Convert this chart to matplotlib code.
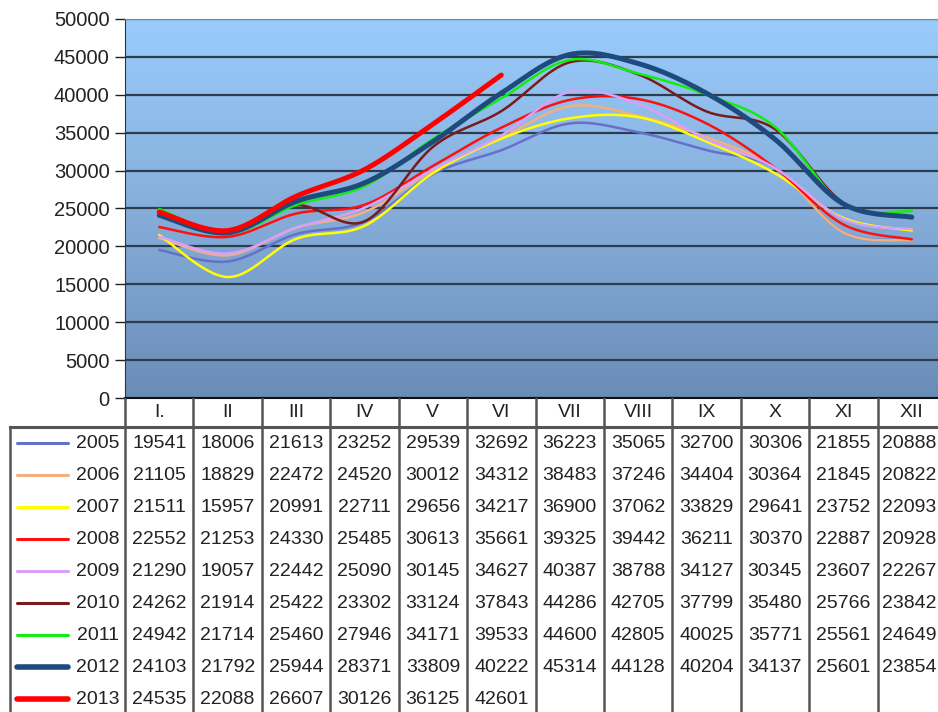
import matplotlib
matplotlib.use('Agg')
import matplotlib.pyplot as plt
import numpy as np
from matplotlib.colors import LinearSegmentedColormap

plt.rcParams['font.family'] = ['Liberation Sans', 'DejaVu Sans']

# data
months = ['I.', 'II', 'III', 'IV', 'V', 'VI', 'VII', 'VIII', 'IX', 'X', 'XI', 'XII']
years = ['2005', '2006', '2007', '2008', '2009', '2010', '2011', '2012', '2013']

v2005 = [19541, 18006, 21613, 23252, 29539, 32692, 36223, 35065, 32700, 30306, 21855, 20888]
v2006 = [21105, 18829, 22472, 24520, 30012, 34312, 38483, 37246, 34404, 30364, 21845, 20822]
v2007 = [21511, 15957, 20991, 22711, 29656, 34217, 36900, 37062, 33829, 29641, 23752, 22093]
v2008 = [22552, 21253, 24330, 25485, 30613, 35661, 39325, 39442, 36211, 30370, 22887, 20928]
v2009 = [21290, 19057, 22442, 25090, 30145, 34627, 40387, 38788, 34127, 30345, 23607, 22267]
v2010 = [24262, 21914, 25422, 23302, 33124, 37843, 44286, 42705, 37799, 35480, 25766, 23842]
v2011 = [24942, 21714, 25460, 27946, 34171, 39533, 44600, 42805, 40025, 35771, 25561, 24649]
v2012 = [24103, 21792, 25944, 28371, 33809, 40222, 45314, 44128, 40204, 34137, 25601, 23854]
v2013 = [24535, 22088, 26607, 30126, 36125, 42601]

series = [v2005, v2006, v2007, v2008, v2009, v2010, v2011, v2012, v2013]
colors = ['#6670C8', '#F0B080', '#FFFF00', '#FF1010', '#D8A0F8',
          '#7A1A1A', '#10EE10', '#1F4A7D', '#FF0000']
widths = [1.8, 1.8, 1.8, 1.8, 1.8, 1.8, 1.8, 3.6, 3.6]


def smooth(y, n=30):
    # excel-like smoothed line (catmull-rom as bezier)
    y = np.asarray(y, float)
    x = np.arange(len(y), dtype=float)
    px = np.concatenate([[x[0]], x, [x[-1]]])
    py = np.concatenate([[y[0]], y, [y[-1]]])
    xs, ys = [], []
    t = np.linspace(0, 1, n)
    for i in range(1, len(px) - 2):
        p0 = np.array([px[i], py[i]])
        p3 = np.array([px[i + 1], py[i + 1]])
        p1 = p0 + (np.array([px[i + 1], py[i + 1]]) - np.array([px[i - 1], py[i - 1]])) / 6
        p2 = p3 - (np.array([px[i + 2], py[i + 2]]) - np.array([px[i], py[i]])) / 6
        b = ((1 - t) ** 3)[:, None] * p0 + (3 * (1 - t) ** 2 * t)[:, None] * p1 \
            + (3 * (1 - t) * t ** 2)[:, None] * p2 + (t ** 3)[:, None] * p3
        xs.extend(b[:, 0]); ys.extend(b[:, 1])
    return np.array(xs), np.array(ys)


W, H = 938, 712
colw = 68.4
fs = 14
fig = plt.figure(figsize=(W / 100, H / 100), dpi=100)

# chart area
ax = fig.add_axes([125 / W, 1 - 398 / H, (946 - 125) / W, (398 - 19) / H])
ax.set_xlim(-0.5, 11.5)
ax.set_ylim(0, 50000)
cmap = LinearSegmentedColormap.from_list('bg', ['#6A8DB6', '#86AEDB', '#99CCFC'])
ax.imshow(np.linspace(0, 1, 256).reshape(-1, 1), extent=[-0.5, 11.5, 0, 50000],
          aspect='auto', cmap=cmap, origin='lower', zorder=0)
ax.set_yticks(np.arange(0, 50001, 5000))
ax.yaxis.grid(True, color='#2E3D4E', lw=1.6)
ax.set_axisbelow(True)
ax.set_xticks([])
ax.tick_params(axis='y', direction='out', length=7, width=1, labelsize=14.5,
               pad=4, colors='#222222')
ax.spines['right'].set_visible(False)
ax.spines['top'].set_color('#888888')
ax.spines['left'].set_color('#333333')
ax.spines['bottom'].set_color('#111111')
ax.spines['bottom'].set_linewidth(1.5)

for vals, c, w in zip(series, colors, widths):
    sx, sy = smooth(vals)
    ax.plot(sx, sy, color=c, lw=w, solid_capstyle='round', zorder=3)

# data table
x_left = -0.5 - (125 - 5) / colw
tab = fig.add_axes([5 / W, 0, (946 - 5) / W, 314 / H])
tab.set_xlim(x_left, 11.5)
tab.set_ylim(285 / 32, -29 / 32)
tab.axis('off')

lc = '#555555'
for k in range(13):
    tab.plot([k - 0.5, k - 0.5], [-29 / 32, 10], color=lc, lw=1.8)
tab.plot([x_left + 5 / colw, 11.5], [0, 0], color=lc, lw=2.2)
tab.plot([x_left + 5 / colw, x_left + 5 / colw], [0, 10], color=lc, lw=1.8)

for j, m in enumerate(months):
    tab.text(j, -0.45, m, ha='center', va='center', fontsize=fs, color='#222222')

for i, (yr, vals, c, w) in enumerate(zip(years, series, colors, widths)):
    yc = i + 0.5
    tab.plot([-0.5 - 108 / colw, -0.5 - 57 / colw], [yc, yc], color=c, lw=w + 0.4,
             solid_capstyle='round')
    tab.text(-0.5 - 6 / colw, yc, yr, ha='right', va='center', fontsize=fs, color='#222222')
    for j, v in enumerate(vals):
        # last column sits against the right edge of the picture
        xj = j - 3 / colw if j == 11 else j
        tab.text(xj, yc, str(v), ha='center', va='center', fontsize=fs, color='#222222')

fig.savefig('out.png', dpi=100)
